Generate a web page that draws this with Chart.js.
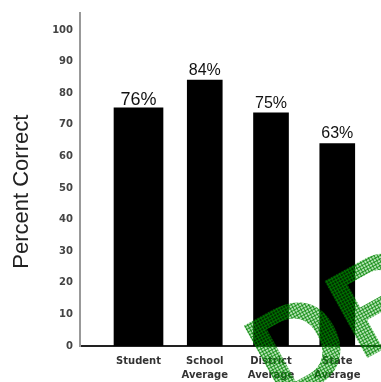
<!DOCTYPE html>
<html>
<head>
<meta charset="utf-8">
<script src="https://cdn.jsdelivr.net/npm/chart.js@4"></script>
<style>
  body { margin: 0; background: #fff; }
  #wrap { width: 381px; height: 382px; position: relative; }
</style>
</head>
<body>
<div id="wrap"><canvas id="chart"></canvas></div>
<script>
// chart data
const categories = [['Student'], ['School', 'Average'], ['District', 'Average'], ['State', 'Average']];
const barValues = [75.4, 84.2, 73.8, 64.1];
const valueLabels = ['76%', '84%', '75%', '63%'];
const yTicks = [0, 10, 20, 30, 40, 50, 60, 70, 80, 90, 100];

Chart.defaults.font.family = '"Liberation Sans", Arial, sans-serif';

// Student bar drawn wider than the comparison bars
const points = barValues.map((v, i) => ({ x: i, y: v }));

// Percent labels above each bar
const valueLabelPlugin = {
    id: 'valueLabels',
    afterDatasetsDraw(chart) {
        const ctx = chart.ctx;
        ctx.save();
        ctx.fillStyle = '#111';
        ctx.textAlign = 'center';
        ctx.textBaseline = 'alphabetic';
        chart.data.datasets.forEach((ds, di) => {
            chart.getDatasetMeta(di).data.forEach((bar, j) => {
                const idx = ds.data[j].x;
                const big = idx === 0;
                ctx.font = (big ? '18px' : '16px') + ' "Liberation Sans", Arial';
                ctx.fillText(valueLabels[idx], bar.x, bar.y - (big ? 3 : 5));
            });
        });
        ctx.restore();
    }
};

// Checkered green "DRAFT" watermark across the lower right corner
function checkerPattern(ctx) {
    const c = document.createElement('canvas');
    c.width = 3;
    c.height = 3;
    const p = c.getContext('2d');
    p.fillStyle = 'rgba(0, 160, 0, 0.28)';
    p.fillRect(0, 0, 3, 3);
    p.fillStyle = 'rgba(0, 130, 0, 0.75)';
    p.fillRect(0, 0, 3, 1);
    p.fillRect(0, 0, 1, 3);
    return ctx.createPattern(c, 'repeat');
}

const watermarkPlugin = {
    id: 'watermark',
    afterDraw(chart) {
        const ctx = chart.ctx;
        ctx.save();
        ctx.fillStyle = checkerPattern(ctx);
        ctx.translate(279, 407);
        ctx.rotate(-29 * Math.PI / 180);
        ctx.font = 'bold 128px "Liberation Sans", Arial';
        ctx.textBaseline = 'alphabetic';
        ctx.fillText('DRAFT', 0, 0);
        ctx.restore();
    }
};

new Chart(document.getElementById('chart'), {
    type: 'bar',
    data: {
        datasets: [{
            data: points.slice(0, 1),
            backgroundColor: '#000',
            borderWidth: 0,
            barThickness: 49,
            grouped: false
        }, {
            data: points.slice(1),
            backgroundColor: '#000',
            borderWidth: 0,
            barThickness: 35,
            grouped: false
        }]
    },
    options: {
        responsive: true,
        maintainAspectRatio: false,
        animation: false,
        layout: { padding: { top: 12, right: 0, left: 0, bottom: 0 } },
        plugins: {
            legend: { display: false },
            tooltip: { enabled: false }
        },
        scales: {
            x: {
                type: 'linear',
                min: -0.883,
                max: 3.66,
                offset: false,
                afterBuildTicks: s => { s.ticks = categories.map((c, i) => ({ value: i })); },
                afterFit: s => { s.height = 36; },
                grid: { display: false, drawTicks: false },
                border: { display: true, color: '#222', width: 2 },
                ticks: {
                    padding: 8,
                    color: '#333',
                    autoSkip: false,
                    maxRotation: 0,
                    font: { family: '"DejaVu Sans"', size: 10, weight: 'bold', lineHeight: 1.4 },
                    callback: v => categories[v]
                }
            },
            y: {
                min: 0,
                max: 105.4,
                afterBuildTicks: s => { s.ticks = yTicks.map(v => ({ value: v })); },
                afterFit: s => { s.width = 80; },
                grid: { display: false, drawTicks: false },
                border: { display: true, color: '#999', width: 2 },
                ticks: {
                    padding: 7,
                    color: '#444',
                    font: { family: '"DejaVu Sans"', size: 10, weight: 'bold' }
                },
                title: {
                    display: true,
                    text: 'Percent Correct    ',
                    color: '#222',
                    font: { size: 22 },
                    padding: { top: 9, bottom: 0 }
                }
            }
        }
    },
    plugins: [valueLabelPlugin, watermarkPlugin]
});
</script>
</body>
</html>
